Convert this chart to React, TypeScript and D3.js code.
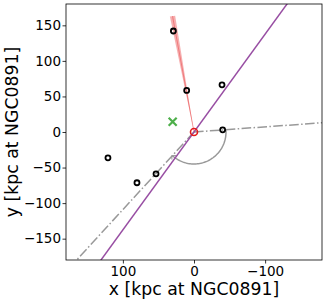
import { useEffect, useRef } from "react";
import * as React from "react";
import { axisBottom, axisLeft, line, range, scaleLinear, select } from "d3";

// satellite positions (kpc, projected at NGC0891)
const satX = [29, 10.3, -39.4, -40.3, 121, 80.2, 53.4];
const satY = [142, 58.4, 66.4, 3, -36.3, -71.4, -58.8];
// green cross
const crossX = [30];
const crossY = [14.3];
// directions of the lines drawn from the host (data units)
const purpleDir = [-130.8, 180];
const grayRayA = [-180, 13];
const grayRayB = [165, -180];
const redTip = [30.2, 163];
const redSpread = 1.3; // degrees, half width of the pink band
const arcRadius = 45;

const xTicks = [100, 0, -100];
const yTicks = [-150, -100, -50, 0, 50, 100, 150];

const W = 327;
const H = 302;
const margin = { top: 4, right: 5, bottom: 42, left: 66 };
const FONT = "DejaVu Sans, sans-serif";

function AxisBottom({ scale, y }) {
  const ref = useRef<SVGGElement>(null);
  useEffect(() => {
    if (!ref.current) return;
    const g = select(ref.current);
    g.call(axisBottom(scale).tickValues(xTicks).tickSize(3.5).tickPadding(3).tickFormat((d) => String(d).replace("-", "\u2212")));
    g.select(".domain").remove();
    g.selectAll("text").attr("font-size", 13.5).attr("font-family", FONT).attr("fill", "#000");
    g.selectAll("line").attr("stroke", "#000").attr("stroke-width", 0.8);
  }, [scale]);
  return <g ref={ref} transform={`translate(0,${y})`} />;
}

function AxisLeft({ scale, x }) {
  const ref = useRef<SVGGElement>(null);
  useEffect(() => {
    if (!ref.current) return;
    const g = select(ref.current);
    g.call(axisLeft(scale).tickValues(yTicks).tickSize(3.5).tickPadding(1.5).tickFormat((d) => String(d).replace("-", "\u2212")));
    g.select(".domain").remove();
    g.selectAll("text").attr("font-size", 13.5).attr("font-family", FONT).attr("fill", "#000");
    g.selectAll("line").attr("stroke", "#000").attr("stroke-width", 0.8);
  }, [scale]);
  return <g ref={ref} transform={`translate(${x},0)`} />;
}

export default function App() {
  const x = scaleLinear().domain([180, -180]).range([margin.left, W - margin.right]);
  const y = scaleLinear().domain([-180, 180]).range([H - margin.bottom, margin.top]);
  const path = line<number[]>().x((d) => x(d[0])).y((d) => y(d[1]));

  const angA = Math.atan2(grayRayA[1], grayRayA[0]);
  let angB = Math.atan2(grayRayB[1], grayRayB[0]);
  if (angB < angA) angB += 2 * Math.PI;
  const arcPts = range(0, 61).map((i) => {
    const a = angA + ((angB - angA) * i) / 60;
    return [arcRadius * Math.cos(a), arcRadius * Math.sin(a)];
  });

  const redLen = Math.hypot(redTip[0], redTip[1]);
  const redAng = Math.atan2(redTip[1], redTip[0]);
  const sp = (redSpread * Math.PI) / 180;
  const wedge = [
    [0, 0],
    [redLen * Math.cos(redAng - sp), redLen * Math.sin(redAng - sp)],
    [redLen * Math.cos(redAng + sp), redLen * Math.sin(redAng + sp)],
  ];

  const endA = arcPts[arcPts.length - 1];

  return (
    <svg width={W} height={H} style={{ position: "absolute", left: 0, top: 0 }} fontFamily={FONT}>
      <rect width={W} height={H} fill="#fff" />
      <defs>
        <clipPath id="plot">
          <rect x={margin.left} y={margin.top} width={W - margin.left - margin.right} height={H - margin.top - margin.bottom} />
        </clipPath>
      </defs>
      <g clipPath="url(#plot)">
        <path d={path([[0, 0], [grayRayA[0] * 2, grayRayA[1] * 2]]) ?? ""} stroke="#999" strokeWidth={1.5} fill="none" strokeDasharray="9.6 2.4 1.5 2.4" />
        <path d={path([[0, 0], [grayRayB[0] * 2, grayRayB[1] * 2]]) ?? ""} stroke="#999" strokeWidth={1.5} fill="none" strokeDasharray="9.6 2.4 1.5 2.4" />
        <path d={path(arcPts) ?? ""} stroke="#999" strokeWidth={1.5} fill="none" />
        <path
          d={`M${x(endA[0]) - 0.5},${y(endA[1]) + 4}V${y(endA[1])}H${x(endA[0]) + 4}`}
          stroke="#999"
          strokeWidth={1}
          fill="none"
        />
        <path d={path([[purpleDir[0] * 2, purpleDir[1] * 2], [-purpleDir[0] * 2, -purpleDir[1] * 2]]) ?? ""} stroke="#984ea3" strokeWidth={1.5} fill="none" />
        <path d={(path(wedge) ?? "") + "Z"} fill="#e41a1c" fillOpacity={0.35} stroke="none" />
        <path d={path([[0, 0], redTip]) ?? ""} stroke="#e41a1c" strokeOpacity={0.45} strokeWidth={0.8} fill="none" />
        {satX.map((v, i) => (
          <circle key={`sat-${i}`} cx={x(v)} cy={y(satY[i])} r={2.5} fill="none" stroke="#000" strokeWidth={1.8} />
        ))}
        {crossX.map((v, i) => (
          <path
            key={`cross-${i}`}
            d={`M${x(v) - 4},${y(crossY[i]) - 4}L${x(v) + 4},${y(crossY[i]) + 4}M${x(v) - 4},${y(crossY[i]) + 4}L${x(v) + 4},${y(crossY[i]) - 4}`}
            stroke="#4daf4a"
            strokeWidth={2.2}
          />
        ))}
        <circle cx={x(0)} cy={y(0)} r={3.5} fill="none" stroke="#e41a1c" strokeWidth={1.6} />
      </g>
      <rect
        x={margin.left}
        y={margin.top}
        width={W - margin.left - margin.right}
        height={H - margin.top - margin.bottom}
        fill="none"
        stroke="#000"
        strokeWidth={0.8}
      />
      <AxisBottom scale={x} y={H - margin.bottom} />
      <AxisLeft scale={y} x={margin.left} />
      <text x={x(0)} y={294.5} textAnchor="middle" fontSize={17.3}>
        x [kpc at NGC0891]
      </text>
      <text transform={`translate(17.5,${y(0)}) rotate(-90)`} textAnchor="middle" fontSize={17.3}>
        y [kpc at NGC0891]
      </text>
    </svg>
  );
}
